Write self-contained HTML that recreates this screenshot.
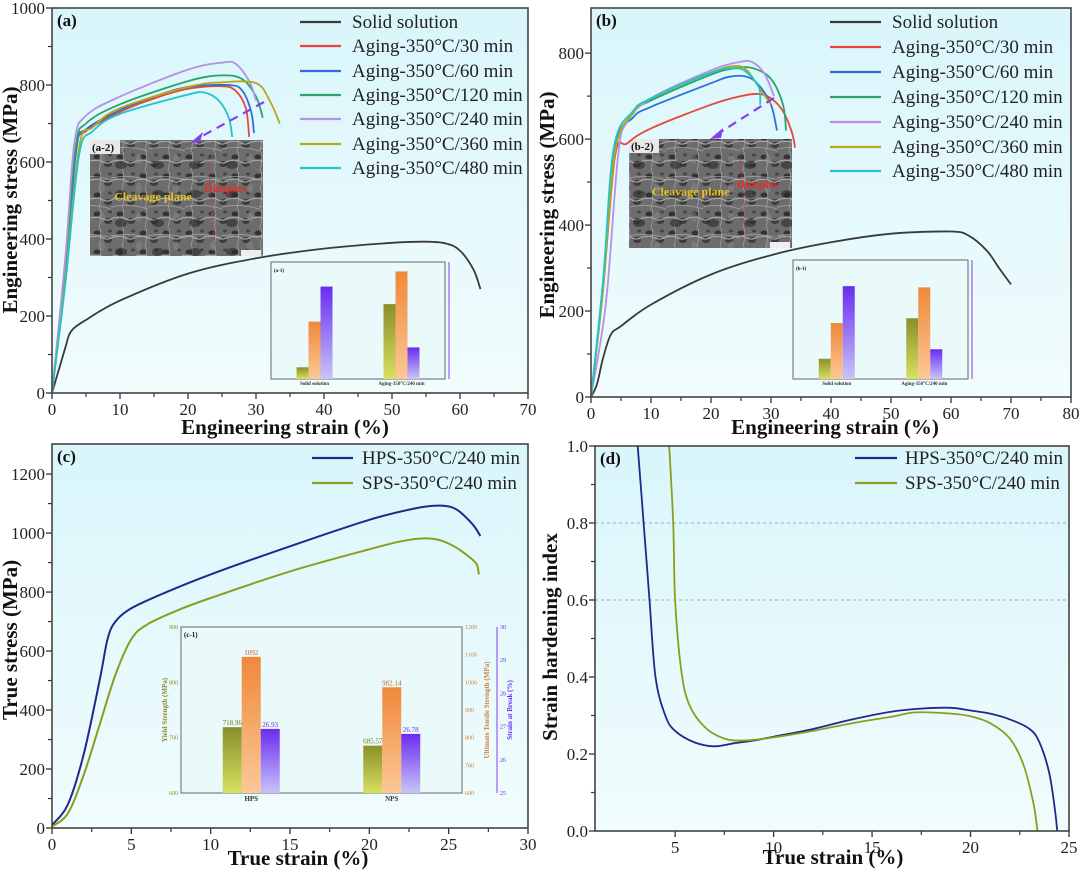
<!DOCTYPE html>
<html><head><meta charset="utf-8">
<style>
html,body{margin:0;padding:0;background:#fff;}
svg{display:block;font-family:"Liberation Serif",serif;}
.tick{font-size:17px;fill:#222;}
.ttl{font-size:21px;font-weight:bold;fill:#111;}
.leg{font-size:19px;fill:#222;font-family:"Liberation Serif",serif;}
.plab{font-size:17px;font-weight:bold;fill:#111;}
</style></head>
<body>
<svg id="fig" width="1080" height="877" viewBox="0 0 1080 877" xmlns="http://www.w3.org/2000/svg">
<defs>
<linearGradient id="bg" x1="0" y1="0" x2="0" y2="1"><stop offset="0" stop-color="#d9f6fb"/><stop offset="1" stop-color="#f1fcfd"/></linearGradient>
<pattern id="sem" width="23" height="19" patternUnits="userSpaceOnUse">
<rect width="23" height="19" fill="#7a7a7a"/>
<ellipse cx="5" cy="5" rx="3.5" ry="2.5" fill="#2e2e2e"/>
<ellipse cx="16" cy="12" rx="4" ry="3" fill="#3a3a3a"/>
<path d="M0 9 Q6 7 11 10 T23 8" stroke="#cfcfcf" stroke-width="1.1" fill="none"/>
<path d="M8 0 Q10 6 7 19" stroke="#bdbdbd" stroke-width="0.8" fill="none"/>
<ellipse cx="18" cy="3" rx="2" ry="1.5" fill="#444"/>
</pattern>
<pattern id="sem2" width="37" height="29" patternUnits="userSpaceOnUse">
<ellipse cx="10" cy="20" rx="6" ry="4" fill="#222" opacity="0.6"/>
<path d="M0 4 Q18 0 37 6" stroke="#ddd" stroke-width="1" fill="none" opacity="0.6"/>
<ellipse cx="28" cy="14" rx="3" ry="5" fill="#aaa" opacity="0.4"/>
</pattern>
<linearGradient id="gG" x1="0" y1="0" x2="0" y2="1"><stop offset="0" stop-color="#8a8f2a"/><stop offset="1" stop-color="#d8e060"/></linearGradient>
<linearGradient id="gO" x1="0" y1="0" x2="0" y2="1"><stop offset="0" stop-color="#f0883a"/><stop offset="1" stop-color="#fbc896"/></linearGradient>
<linearGradient id="gP" x1="0" y1="0" x2="0" y2="1"><stop offset="0" stop-color="#6a2cf0"/><stop offset="1" stop-color="#c8c4f8"/></linearGradient>
</defs>
<g id="layer"></g>
</svg>
<script>
// ---------- Panel (a) data: engineering strain (%) / stress (MPa) ----------
const aSolidX=[0,1,2,2.8,5,10,20,30,40,50,55,58,60,62,63];
const aSolidY=[0,60,120,160,190,240,310,350,375,390,393,388,370,320,270];
const a30X=[0,2,3.5,5,10,15,20,25,27,28.5,29];
const a30Y=[0,330,630,680,730,765,790,797,785,740,665];
const a60X=[0,2,3.6,5,10,15,20,26,28,29.3,29.7];
const a60Y=[0,320,635,685,735,770,795,800,785,730,675];
const a120X=[0,2,3.5,5,10,20,25,28,30,31];
const a120Y=[0,340,640,700,750,810,825,815,770,715];
const a240X=[0,2,3.3,5,10,20,25,27,29,30];
const a240Y=[0,360,650,720,770,840,858,855,810,760];
const a360X=[0,2,4,6,10,20,25,30,32,33.5];
const a360Y=[0,300,640,690,740,795,807,805,760,700];
const a480X=[0,2,4,6,10,20,22.5,24.5,26,26.5];
const a480Y=[0,290,620,680,725,775,780,760,715,665];
// ---------- Panel (b) data ----------
const bSolidX=[0,1,2,3.3,5,10,20,30,40,50,60,63,66,68,70];
const bSolidY=[0,30,90,145,165,215,285,330,360,380,385,375,340,300,262];
const b30X=[0,2,4,6,10,20,25,28,30,32,33.5,34];
const b30Y=[0,250,560,590,625,680,700,705,695,665,615,580];
const b60X=[0,2,4,7,10,20,23,26,28,30,31];
const b60Y=[0,260,580,650,675,730,745,745,725,680,620];
const b120X=[0,2,4,7,10,20,24,27,30,32,32.5];
const b120Y=[0,250,570,660,690,750,765,765,740,680,620];
const b240X=[0,2.5,4.5,6,10,20,25,27,29,30.5];
const b240Y=[0,220,560,640,695,760,780,778,750,700];
const b360X=[0,2,4,7,10,20,24,26,28,30];
const b360Y=[0,250,570,660,695,755,770,760,720,680];
const b480X=[0,2,3.8,7,10,20,24,26,28,28.2];
const b480Y=[0,270,580,665,695,755,765,755,720,680];
// ---------- Panel (c) data: true strain / true stress ----------
const cHpsX=[0,1,2,3,3.5,4,5,7,10,15,20,23,24.5,25.5,26.5,27];
const cHpsY=[10,80,250,500,640,700,745,795,860,955,1045,1085,1093,1080,1030,990];
const cSpsX=[0,1,2,3,4,5,6,8,10,15,20,22,23.5,24.5,25.5,26.5,26.8,26.9];
const cSpsY=[5,50,180,350,520,640,690,740,780,870,945,972,982,975,950,910,890,860];
// ---------- Panel (d) data: strain hardening index ----------
const dHpsX=[3.1,3.4,3.7,4,4.5,5,6,7,8,9,10,12,14,16,17.5,19,20,21,22,23,23.5,24,24.3,24.4];
const dHpsY=[1.0,0.8,0.6,0.4,0.3,0.26,0.23,0.22,0.228,0.235,0.245,0.265,0.29,0.31,0.318,0.32,0.313,0.305,0.29,0.265,0.23,0.15,0.05,0];
const dSpsX=[4.7,4.9,5.0,5.3,5.7,6.5,7.5,8.5,10,12,14,16,17.2,19,20,21,22,22.7,23.2,23.4];
const dSpsY=[1.0,0.8,0.6,0.42,0.33,0.27,0.24,0.235,0.243,0.26,0.28,0.297,0.308,0.305,0.298,0.28,0.24,0.17,0.07,0];
// ---------- Inset bar data ----------
const a1Groups=["Solid solution","Aging-350°C/240 min"];
const a1Yield=[0.10,0.64];   // fraction of inset axis
const a1UTS=[0.49,0.92];
const a1Strain=[0.79,0.27];
const b1Groups=["Solid solution","Aging-350°C/240 min"];
const b1Yield=[0.17,0.51];
const b1UTS=[0.47,0.77];
const b1Strain=[0.78,0.25];
const c1Groups=["HPS","NPS"];
const c1Yield=[718.96,685.57];  // axis 600-900
const c1UTS=[1092,982.14];      // axis 600-1200
const c1Strain=[26.93,26.78];   // axis 25-30
const c1YieldTicks=[600,700,800,900];
const c1UTSTicks=[600,700,800,900,1000,1100,1200];
const c1StrainTicks=[25,26,27,28,29,30];
// ---------- Axis ticks ----------
const aXTicks=[0,10,20,30,40,50,60,70];
const aYTicks=[0,200,400,600,800,1000];
const bXTicks=[0,10,20,30,40,50,60,70,80];
const bYTicks=[0,200,400,600,800];
const cXTicks=[0,5,10,15,20,25,30];
const cYTicks=[0,200,400,600,800,1000,1200];
const dXTicks=[5,10,15,20,25];
const dYTicks=[0.0,0.2,0.4,0.6,0.8,1.0];
const agingLabels=["Solid solution","Aging-350°C/30 min","Aging-350°C/60 min","Aging-350°C/120 min","Aging-350°C/240 min","Aging-350°C/360 min","Aging-350°C/480 min"];
const tsLabels=["HPS-350°C/240 min","SPS-350°C/240 min"];

const NS="http://www.w3.org/2000/svg";
const root=document.getElementById('layer');
function mk(tag,attrs,parent){const e=document.createElementNS(NS,tag);for(const k in attrs)e.setAttribute(k,attrs[k]);(parent||root).appendChild(e);return e;}
function scales(P){return{x:v=>P.l+(v-P.x0)/(P.x1-P.x0)*(P.r-P.l),y:v=>P.b-(v-P.y0)/(P.y1-P.y0)*(P.b-P.t)};}
function smooth(pts){
  let d="M"+pts[0][0].toFixed(1)+","+pts[0][1].toFixed(1);
  for(let i=0;i<pts.length-1;i++){
    const p0=pts[Math.max(0,i-1)],p1=pts[i],p2=pts[i+1],p3=pts[Math.min(pts.length-1,i+2)];
    const c1=[p1[0]+(p2[0]-p0[0])/6,p1[1]+(p2[1]-p0[1])/6];
    const c2=[p2[0]-(p3[0]-p1[0])/6,p2[1]-(p3[1]-p1[1])/6];
    d+=" C"+c1[0].toFixed(1)+","+c1[1].toFixed(1)+" "+c2[0].toFixed(1)+","+c2[1].toFixed(1)+" "+p2[0].toFixed(1)+","+p2[1].toFixed(1);
  }
  return d;
}
function frame(P,name,xt,yt,xfmt,yfmt){
  const s=scales(P);
  const bg=mk('rect',{x:P.l,y:P.t,width:P.r-P.l,height:P.b-P.t,fill:'url(#bg)'});
  
  
  const g=mk('g',{});
  
  
  xt.forEach((v,i)=>{
    const x=s.x(v);
    mk('line',{x1:x,y1:P.b,x2:x,y2:P.b+6,stroke:'#333','stroke-width':1.3},g);
    const t=mk('text',{x:x,y:P.b+22,'text-anchor':'middle',class:'tick'},g);t.textContent=xfmt(v);
    
    
    if(i<xt.length-1){const m=s.x((v+xt[i+1])/2);mk('line',{x1:m,y1:P.b,x2:m,y2:P.b+4,stroke:'#333','stroke-width':1.2},g);}
  });
  yt.forEach((v,i)=>{
    const y=s.y(v);
    mk('line',{x1:P.l-6,y1:y,x2:P.l,y2:y,stroke:'#333','stroke-width':1.3},g);
    const t=mk('text',{x:P.l-7,y:y+6,'text-anchor':'end',class:'tick'},g);t.textContent=yfmt(v);
    
    
    if(i<yt.length-1){const m=s.y((v+yt[i+1])/2);mk('line',{x1:P.l-4,y1:m,x2:P.l,y2:m,stroke:'#333','stroke-width':1.2},g);}
  });
  return s;
}
function border(P,name){
  const b=mk('rect',{x:P.l,y:P.t,width:P.r-P.l,height:P.b-P.t,fill:'none',stroke:'#444','stroke-width':1.6});
  
  
}
function series(s,xs,ys,color,name,w){
  const pts=xs.map((x,i)=>[s.x(x),s.y(ys[i])]);
  const p=mk('path',{d:smooth(pts),fill:'none',stroke:color,'stroke-width':w||1.8,'stroke-linejoin':'round'});
  
  
}
function legend(labels,colors,lx1,lx2,tx,ys,name){
  labels.forEach((lab,i)=>{
    const g=mk('g',{});
    
    
    mk('line',{x1:lx1,y1:ys[i],x2:lx2,y2:ys[i],stroke:colors[i],'stroke-width':2.2},g);
    const t=mk('text',{x:tx,y:ys[i]+6,class:'leg'},g);t.textContent=lab;
  });
}
function title(x,y,txt,rot,name){
  const t=mk('text',{x:x,y:y,'text-anchor':'middle',class:'ttl',transform:rot?`rotate(-90 ${x} ${y})`:''});
  t.textContent=txt;
  
  
}
function plab(x,y,txt,name){
  const t=mk('text',{x:x,y:y,class:'plab'});t.textContent=txt;
  
  
}
function sem(x,y,w,h,label,name){
  const g=mk('g',{});
  
  
  mk('rect',{x:x,y:y,width:w,height:h,fill:'url(#sem)'},g);
  mk('rect',{x:x,y:y,width:w,height:h,fill:'url(#sem2)'},g);
  mk('rect',{x:x,y:y,width:w,height:h,fill:'#444',opacity:0.25},g);
  mk('rect',{x:x,y:y,width:30,height:14,fill:'#e8e8e8'},g);
  const t=mk('text',{x:x+2,y:y+11,'font-size':'11px','font-weight':'bold',fill:'#111'},g);t.textContent=label;
  const c=mk('text',{x:x+w*0.14,y:y+h*0.52,'font-size':'12px','font-weight':'bold',fill:'#e8c020'},g);c.textContent="Cleavage plane";
  const d=mk('text',{x:x+w*0.66,y:y+h*0.45,'font-size':'12px','font-weight':'bold',fill:'#e03030'},g);d.textContent="Dimples";
  mk('line',{x1:x+w*0.68,y1:y+h*0.15,x2:x+w*0.72,y2:y+h*0.9,stroke:'#e03030','stroke-width':0.8,'stroke-dasharray':'3,2'},g);
  mk('rect',{x:x+w-22,y:y+h-6,width:20,height:6,fill:'#eee'},g);
}
function barInset(x,y,w,h,label,groups,yv,uv,sv,name,ax){
  const g=mk('g',{});
  
  
  mk('rect',{x:x,y:y,width:w,height:h,fill:'#eafafb',stroke:'#666','stroke-width':1},g);
  const t=mk('text',{x:x+3,y:y+10,'font-size':ax.fs+'px','font-weight':'bold',fill:'#111'},g);t.textContent=label;
  const bw=ax.bw;
  groups.forEach((gr,i)=>{
    const cx=x+w*(0.25+0.5*i);
    const vals=[(yv[i]-ax.y0)/(ax.y1-ax.y0),(uv[i]-ax.u0)/(ax.u1-ax.u0),(sv[i]-ax.s0)/(ax.s1-ax.s0)];
    const fills=['url(#gG)','url(#gO)','url(#gP)'];
    const nm=['yield','uts','strain'];
    vals.forEach((f,j)=>{
      const bh=f*h;
      const r=mk('rect',{x:cx-1.5*bw+j*bw,y:y+h-bh,width:bw,height:bh,fill:fills[j]},g);
      
      
    });
    const tl=mk('text',{x:cx,y:y+h+ax.fs+1,'text-anchor':'middle','font-size':ax.fs+'px','font-weight':'bold',fill:'#333'},g);tl.textContent=gr;
  });
  mk('line',{x1:x+w+ax.off,y1:y,x2:x+w+ax.off,y2:y+h,stroke:'#8a3cf0','stroke-width':1},g);
  return g;
}
// ---------- layout ----------
const PA={l:52,r:528,t:8,b:393,x0:0,x1:70,y0:0,y1:1000};
const PB={l:591,r:1071,t:8,b:397,x0:0,x1:80,y0:0,y1:905};
const PC={l:52,r:528,t:444,b:828,x0:0,x1:30,y0:0,y1:1302};
const PD={l:595,r:1069,t:446,b:831,x0:0.93,x1:25,y0:0,y1:1};
const cols=['#3a3a3a','#e8463a','#2e6fd8','#2ca26a','#b690e8','#b8a818','#22c4c8'];
const tsCols=['#1e2a8a','#8a9e1e'];
const intf=v=>String(v), f1=v=>v.toFixed(1);

// Panel a
let s=frame(PA,'panel-a',aXTicks,aYTicks,intf,intf);
sem(90,140,173,116,'(a-2)','panel-a-sem-image');
barInset(271,262,174,117,'(a-1)',a1Groups,a1Yield,a1UTS,a1Strain,'panel-a-inset-bars',{y0:0,y1:1,u0:0,u1:1,s0:0,s1:1,bw:12,fs:5,off:4});
series(s,aSolidX,aSolidY,cols[0],'panel-a-solid-solution-line');
series(s,a30X,a30Y,cols[1],'panel-a-30min-line');
series(s,a60X,a60Y,cols[2],'panel-a-60min-line');
series(s,a120X,a120Y,cols[3],'panel-a-120min-line');
series(s,a240X,a240Y,cols[4],'panel-a-240min-line');
series(s,a360X,a360Y,cols[5],'panel-a-360min-line');
series(s,a480X,a480Y,cols[6],'panel-a-480min-line');
let ar=mk('path',{d:'M264,102 L195,140',stroke:'#8a3cf0','stroke-width':2.2,'stroke-dasharray':'9,6',fill:'none'});


mk('path',{d:'M190,143 L203,132 L200,142 Z',fill:'#8a3cf0'});
border(PA,'panel-a');
legend(agingLabels,cols,300,341,352,[22,46,71,95,119,144,168],'panel-a');
plab(57,26,'(a)','panel-a-label');
title(285,434,'Engineering strain (%)',false,'panel-a-x-axis-title');
title(17,200,'Engineering stress (MPa)',true,'panel-a-y-axis-title');

// Panel b
s=frame(PB,'panel-b',bXTicks,bYTicks,intf,intf);
sem(629,139,163,109,'(b-2)','panel-b-sem-image');
barInset(793,260,175,119,'(b-1)',b1Groups,b1Yield,b1UTS,b1Strain,'panel-b-inset-bars',{y0:0,y1:1,u0:0,u1:1,s0:0,s1:1,bw:12,fs:5,off:4});
series(s,bSolidX,bSolidY,cols[0],'panel-b-solid-solution-line');
series(s,b30X,b30Y,cols[1],'panel-b-30min-line');
series(s,b60X,b60Y,cols[2],'panel-b-60min-line');
series(s,b120X,b120Y,cols[3],'panel-b-120min-line');
series(s,b240X,b240Y,cols[4],'panel-b-240min-line');
series(s,b360X,b360Y,cols[5],'panel-b-360min-line');
series(s,b480X,b480Y,cols[6],'panel-b-480min-line');
ar=mk('path',{d:'M774,98 L716,135',stroke:'#8a3cf0','stroke-width':2.2,'stroke-dasharray':'9,6',fill:'none'});


mk('path',{d:'M710,139 L723,128 L721,138 Z',fill:'#8a3cf0'});
border(PB,'panel-b');
legend(agingLabels,cols,830,881,892,[22,47,72,97,122,147,171],'panel-b');
plab(596,26,'(b)','panel-b-label');
title(835,434,'Engineering strain (%)',false,'panel-b-x-axis-title');
title(554,205,'Engineering stress (MPa)',true,'panel-b-y-axis-title');

// Panel c
s=frame(PC,'panel-c',cXTicks,cYTicks,intf,intf);
series(s,cHpsX,cHpsY,tsCols[0],'panel-c-hps-line',2);
series(s,cSpsX,cSpsY,tsCols[1],'panel-c-sps-line',2);
(function(){
  const x=181,y=627,w=281,h=166;
  const g=barInset(x,y,w,h,'(c-1)',c1Groups,c1Yield,c1UTS,c1Strain,'panel-c-inset-bars',{y0:600,y1:900,u0:600,u1:1200,s0:25,s1:30,bw:19,fs:7,off:35});
  const vy=[c1Yield,c1UTS,c1Strain];
  const rng=[[600,900],[600,1200],[25,30]];
  const lab=[c1Yield.map(v=>v.toFixed(2)),c1UTS.map(v=>String(v)),c1Strain.map(v=>v.toFixed(2))];
  const lc=['#6a7a10','#c8601a','#6a2cf0'];
  c1Groups.forEach((gr,i)=>{
    const cx=x+w*(0.25+0.5*i);
    [0,1,2].forEach(j=>{
      const f=(vy[j][i]-rng[j][0])/(rng[j][1]-rng[j][0]);
      const t=mk('text',{x:cx-19+j*19,y:y+h-f*h-2,'text-anchor':'middle','font-size':'7px',fill:lc[j]},g);t.textContent=lab[j][i];
    });
  });
  c1YieldTicks.forEach(v=>{const t=mk('text',{x:x-3,y:y+h-(v-600)/300*h+2,'text-anchor':'end','font-size':'6px',fill:'#8a8a30'},g);t.textContent=v;});
  c1UTSTicks.forEach(v=>{const t=mk('text',{x:x+w+3,y:y+h-(v-600)/600*h+2,'font-size':'6px',fill:'#d08040'},g);t.textContent=v;});
  c1StrainTicks.forEach(v=>{const t=mk('text',{x:x+w+38,y:y+h-(v-25)/5*h+2,'font-size':'6px',fill:'#6a2cf0'},g);t.textContent=v;});
  const a1=mk('text',{x:x-14,y:y+h/2,'text-anchor':'middle','font-size':'7px','font-weight':'bold',fill:'#8a8a30',transform:`rotate(-90 ${x-14} ${y+h/2})`},g);a1.textContent='Yield Strength (MPa)';
  const a2=mk('text',{x:x+w+27,y:y+h/2,'text-anchor':'middle','font-size':'7px','font-weight':'bold',fill:'#d08040',transform:`rotate(-90 ${x+w+27} ${y+h/2})`},g);a2.textContent='Ultimate Tensile Strength (MPa)';
  const a3=mk('text',{x:x+w+50,y:y+h/2,'text-anchor':'middle','font-size':'7px','font-weight':'bold',fill:'#6a2cf0',transform:`rotate(-90 ${x+w+50} ${y+h/2})`},g);a3.textContent='Strain at Break (%)';
})();
border(PC,'panel-c');
legend(tsLabels,tsCols,312,353,362,[458,483],'panel-c');
plab(57,462,'(c)','panel-c-label');
title(298,865,'True strain (%)',false,'panel-c-x-axis-title');
title(17,640,'True stress (MPa)',true,'panel-c-y-axis-title');

// Panel d
s=frame(PD,'panel-d',dXTicks,dYTicks,intf,f1);
[0.8,0.6].forEach(v=>{const l=mk('line',{x1:PD.l,x2:PD.r,y1:s.y(v),y2:s.y(v),stroke:'#9ab','stroke-width':1,'stroke-dasharray':'3,3'});

});
series(s,dHpsX,dHpsY,tsCols[0],'panel-d-hps-line',1.8);
series(s,dSpsX,dSpsY,tsCols[1],'panel-d-sps-line',1.8);
border(PD,'panel-d');
legend(tsLabels,tsCols,855,897,905,[458,483],'panel-d');
plab(600,464,'(d)','panel-d-label');
title(833,864,'True strain (%)',false,'panel-d-x-axis-title');
title(557,637,'Strain hardening index',true,'panel-d-y-axis-title');
</script>
</body></html>
